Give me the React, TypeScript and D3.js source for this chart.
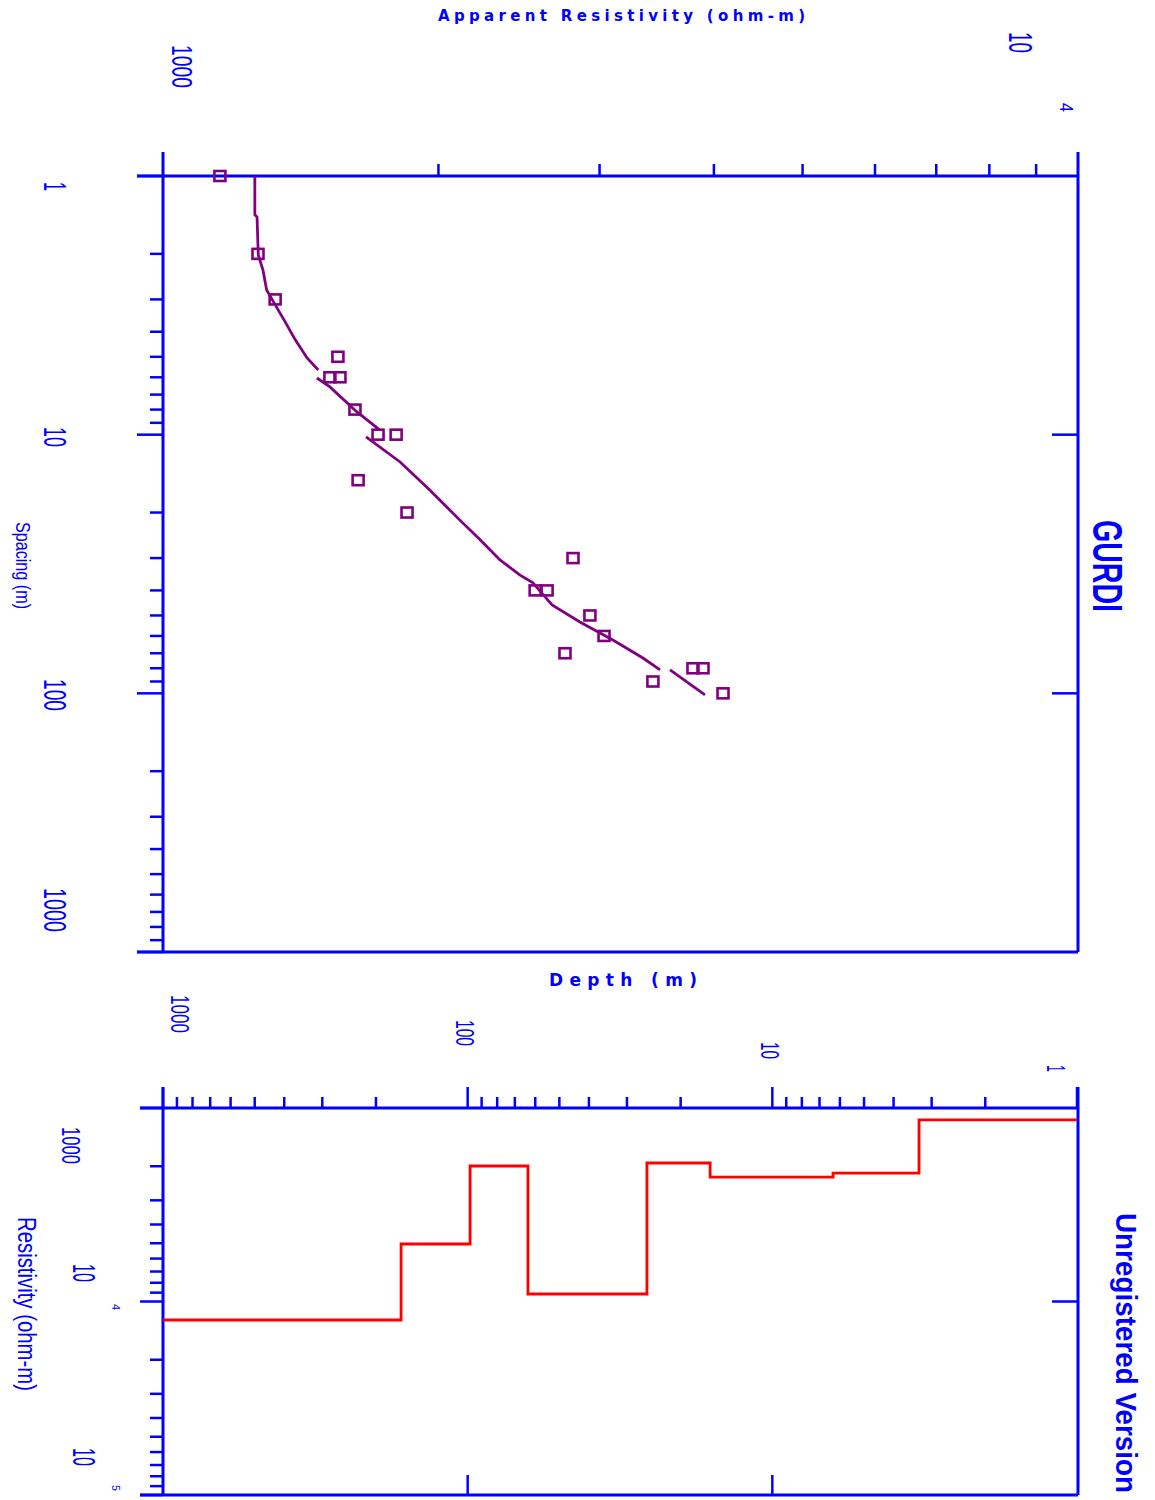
import React from "react";
import * as d3 from "d3";

// sounding data: electrode spacing (m) and apparent resistivity (ohm-m)
const obsSpacing = [1, 2, 3, 5, 6, 6, 8, 10, 10, 15, 20, 30, 40, 40, 50, 60, 70, 90, 80, 80, 100];
const obsRho = [1154, 1270, 1326, 1553, 1522, 1561, 1621, 1718, 1798, 1634, 1848, 2806, 2551, 2629, 2928, 3034, 2750, 3431, 3795, 3892, 4093];

// fitted curve, drawn in pieces like the original
const curveSegments = [
  {
    spacing: [1.0, 1.41, 1.44, 2.02, 2.31, 2.76, 3.1, 3.6, 4.3, 5.05, 5.62],
    rho: [1260, 1260, 1267, 1271, 1286, 1298, 1323, 1356, 1395, 1437, 1478],
  },
  {
    spacing: [6.04, 6.54, 8.15, 9.59],
    rho: [1473, 1522, 1628, 1725],
  },
  {
    spacing: [10.2, 12.75, 16.4, 21.4, 25.5, 30.5, 34.9, 37.4, 45.5, 53, 62.2, 73, 81.2],
    rho: [1667, 1816, 1958, 2111, 2221, 2335, 2456, 2537, 2662, 2855, 3102, 3346, 3493],
  },
  {
    spacing: [81.2, 101.4],
    rho: [3582, 3911],
  },
];

// layered model: top depth of each layer (m) and its resistivity (ohm-m)
const layerTop = [1, 3.3, 6.32, 16, 25.8, 63.4, 98.2, 165.4];
const layerRho = [1153, 2168, 2274, 1924, 9146, 1994, 5045, 12460];
const modelBottom = 1000;

const spacingLabels = ["1", "10", "100", "1000"];
const depthLabels = ["1000", "100", "10", "1"];

const BLUE = "#0000ff";
const PURPLE = "#800080";
const RED = "#ff0000";
const NARROW = "'Liberation Sans Narrow', 'Liberation Sans', Arial, sans-serif";
const SANS = "'Liberation Sans', Arial, sans-serif";
const WIDE = "'DejaVu Sans', Verdana, sans-serif";

// text turned 90deg clockwise; (bx, y0) = baseline x and top end of the text
function VText({ bx, y0, len, size, weight = "normal", family = NARROW, children }: any) {
  return (
    <text
      transform={`translate(${bx},${y0}) rotate(90)`}
      fontFamily={family}
      fontSize={size}
      fontWeight={weight}
      fill={BLUE}
      textLength={len}
      lengthAdjust="spacingAndGlyphs"
    >
      {children}
    </text>
  );
}

export default function App() {
  // upper panel: apparent resistivity across, spacing down
  const xA = d3.scaleLog().domain([1000, 10000]).range([163, 1078]);
  const yS = d3.scaleLog().domain([1, 1000]).range([176, 952]);
  // lower panel: depth across (reversed), resistivity down
  const xD = d3.scaleLog().domain([1000, 1]).range([163, 1077]);
  const yR = d3.scaleLog().domain([1000, 100000]).range([1108, 1495]);

  const isMajor = (v: number) => Math.abs(Math.log10(v) - Math.round(Math.log10(v))) < 1e-6;

  const curveLine = d3
    .line<[number, number]>()
    .x((d) => xA(d[1]))
    .y((d) => yS(d[0]));

  const stepPts: [number, number][] = layerTop.map((d, i) => [d, layerRho[i]]);
  stepPts.push([modelBottom, layerRho[layerRho.length - 1]]);
  const stepLine = d3
    .line<[number, number]>()
    .x((d) => xD(d[0]))
    .y((d) => yR(d[1]))
    .curve(d3.curveStepAfter);

  const axis = { stroke: BLUE, strokeWidth: 3 };
  const tick = { stroke: BLUE, strokeWidth: 2.5 };

  const spacingLabelPos = [
    { y0: 182, len: 9 },
    { y0: 427, len: 20 },
    { y0: 679, len: 32 },
    { y0: 888, len: 44 },
  ];
  const depthLabelPos = [
    { bx: 171, y0: 995, len: 38 },
    { bx: 456, y0: 1020, len: 26 },
    { bx: 761, y0: 1042, len: 17 },
    { bx: 1047, y0: 1065, len: 7 },
  ];

  return (
    <svg
      width={1155}
      height={1500}
      style={{ position: "absolute", left: 0, top: 0, background: "#fff" }}
    >
      {/* ---------- upper panel ---------- */}
      <g>
        <line x1={163} y1={152} x2={163} y2={952} {...axis} />
        <line x1={1078} y1={152} x2={1078} y2={952} {...axis} />
        <line x1={137} y1={176} x2={1078} y2={176} {...axis} />
        <line x1={137} y1={952} x2={1078} y2={952} {...axis} />
        {yS.ticks().map((v, i) => (
          <line key={"ys" + i} x1={isMajor(v) ? 137 : 150} x2={163} y1={yS(v)} y2={yS(v)} {...tick} />
        ))}
        {xA.ticks().filter((v) => !isMajor(v)).map((v, i) => (
          <line key={"xa" + i} x1={xA(v)} x2={xA(v)} y1={164} y2={176} {...tick} />
        ))}
        {[10, 100].map((v) => (
          <line key={"rs" + v} x1={1052} x2={1078} y1={yS(v)} y2={yS(v)} {...tick} />
        ))}

        {curveSegments.map((s, i) => (
          <path
            key={"c" + i}
            d={curveLine(s.spacing.map((sp, j) => [sp, s.rho[j]]) as [number, number][]) || ""}
            fill="none"
            stroke={PURPLE}
            strokeWidth={2.8}
          />
        ))}
        {obsSpacing.map((sp, i) => (
          <rect
            key={"o" + i}
            x={xA(obsRho[i]) - 5.5}
            y={yS(sp) - 5}
            width={11}
            height={10}
            fill="none"
            stroke={PURPLE}
            strokeWidth={2.6}
          />
        ))}

        <text x={438} y={21} fontFamily={WIDE} fontSize={15} fontWeight="bold" fill={BLUE}
          textLength={367} lengthAdjust="spacing">
          Apparent Resistivity (ohm-m)
        </text>
        <VText bx={172} y0={45} len={43} size={30}>1000</VText>
        <VText bx={1009} y0={32} len={21} size={34}>10</VText>
        <VText bx={1060} y0={103} len={9} size={18}>4</VText>
        {spacingLabels.map((t, i) => (
          <VText key={"sl" + i} bx={44} y0={spacingLabelPos[i].y0} len={spacingLabelPos[i].len} size={32}>
            {t}
          </VText>
        ))}
        <VText bx={16} y0={522} len={87} size={21}>Spacing (m)</VText>
        <VText bx={1093} y0={520} len={92} size={43} weight="bold" family={SANS}>GURDI</VText>
      </g>

      {/* ---------- lower panel ---------- */}
      <g>
        <text x={549} y={986} fontFamily={WIDE} fontSize={17} fontWeight="bold" fill={BLUE}
          textLength={148} lengthAdjust="spacing">
          Depth  (m)
        </text>
        <line x1={163} y1={1087} x2={163} y2={1495} {...axis} />
        <line x1={1078} y1={1087} x2={1078} y2={1495} {...axis} />
        <line x1={140} y1={1108} x2={1078} y2={1108} {...axis} />
        <line x1={140} y1={1495} x2={1078} y2={1495} {...axis} />
        {xD.ticks().map((v, i) => (
          <line key={"xd" + i} x1={xD(v)} x2={xD(v)} y1={isMajor(v) ? 1087 : 1097} y2={1108} {...tick} />
        ))}
        {yR.ticks().map((v, i) => (
          <line key={"yr" + i} x1={isMajor(v) ? 140 : 150} x2={163} y1={yR(v)} y2={yR(v)} {...tick} />
        ))}
        <line x1={1052} x2={1078} y1={yR(10000)} y2={yR(10000)} {...tick} />
        {[10, 100].map((v) => (
          <line key={"bd" + v} x1={xD(v)} x2={xD(v)} y1={1475} y2={1495} {...tick} />
        ))}

        <path d={stepLine(stepPts) || ""} fill="none" stroke={RED} strokeWidth={2.8} />

        {depthLabels.map((t, i) => (
          <VText key={"dl" + i} bx={depthLabelPos[i].bx} y0={depthLabelPos[i].y0} len={depthLabelPos[i].len} size={26}>
            {t}
          </VText>
        ))}
        <VText bx={62} y0={1127} len={37} size={25}>1000</VText>
        <VText bx={73} y0={1264} len={18} size={32}>10</VText>
        <VText bx={112} y0={1304} len={6} size={11}>4</VText>
        <VText bx={73} y0={1448} len={18} size={32}>10</VText>
        <VText bx={112} y0={1485} len={6} size={11}>5</VText>
        <VText bx={18} y0={1217} len={174} size={25} family={SANS}>Resistivity (ohm-m)</VText>
        <VText bx={1116} y0={1213} len={280} size={30} weight="bold" family={SANS}>
          Unregistered Version
        </VText>
      </g>
    </svg>
  );
}
